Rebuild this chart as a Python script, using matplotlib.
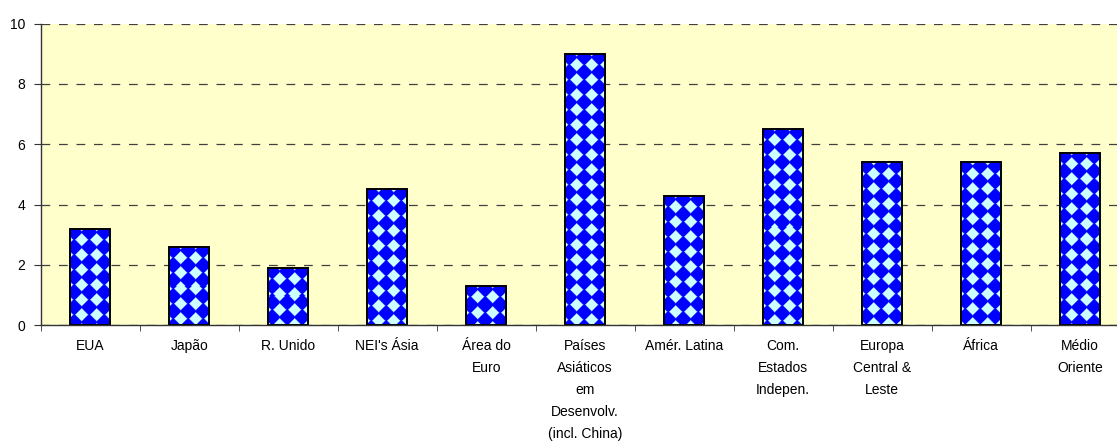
import numpy as np
import matplotlib
matplotlib.use("Agg")
import matplotlib.pyplot as plt

plt.rcParams["font.family"] = ["Liberation Sans", "DejaVu Sans"]
plt.rcParams["font.size"] = 10

categories = ["EUA", "Japão", "R. Unido", "NEI's Ásia", "Área do\nEuro",
              "Países\nAsiáticos\nem\nDesenvolv.\n(incl. China)",
              "Amér. Latina", "Com.\nEstados\nIndepen.",
              "Europa\nCentral &\nLeste", "África", "Médio\nOriente"]
values = [3.2, 2.6, 1.9, 4.5, 1.3, 9.0, 4.3, 6.5, 5.4, 5.4, 5.7]
yticks = [0, 2, 4, 6, 8, 10]

BLUE = np.array([0, 0, 255]) / 255
CYAN = np.array([204, 255, 255]) / 255

fig = plt.figure(figsize=(11.17, 4.41), dpi=100)
ax = fig.add_axes([40.7/1117, 1 - 325.3/441, 1089/1117, (325.3 - 23.5)/441])
ax.set_facecolor("#FFFFCC")

x = np.arange(len(categories))
bars = ax.bar(x, values, width=0.41, color=BLUE, edgecolor="none", zorder=2)
ax.bar(x, values, width=0.41, fill=False, edgecolor="black", lw=1.4, zorder=4)

ax.set_xlim(-0.5, len(categories) - 0.5)
ax.set_ylim(0, 10)
ax.set_yticks(yticks)
ax.set_xticks(x)
ax.set_xticklabels(categories, linespacing=1.73, va="top")
ax.set_xticks(np.arange(len(categories) + 1) - 0.5, minor=True)
ax.tick_params(axis="x", which="major", length=0, pad=10)
ax.tick_params(axis="x", which="minor", length=4, color="#333333", direction="out")
ax.tick_params(axis="y", length=5, pad=6, color="#333333")
ax.yaxis.grid(True, ls=(0, (7, 7)), color="#404040", lw=0.9, zorder=1)
ax.set_axisbelow(True)
for s in ["top", "right"]:
    ax.spines[s].set_visible(False)
for s in ["left", "bottom"]:
    ax.spines[s].set_color("#333333")
    ax.spines[s].set_linewidth(1.0)
    ax.spines[s].set_zorder(5)

# diamond texture inside each bar
fig.canvas.draw()
period, rad = 15.0, 6.5
for b, v in zip(bars, values):
    bb = b.get_window_extent()
    w, h = int(round(bb.width)), int(round(bb.height))
    yy, xx = np.mgrid[0:h, 0:w] + 0.5
    dx = (xx - 11.7) % period
    dx = np.minimum(dx, period - dx)
    dy = (yy - 11.7) % period
    dy = np.minimum(dy, period - dy)
    a = np.clip((rad - (dx + dy)) / 1.5 + 0.5, 0, 1)[..., None]
    img = BLUE * (1 - a) + CYAN * a
    x0 = b.get_x()
    im = ax.imshow(img, extent=(x0, x0 + b.get_width(), 0, v), origin="upper",
                   aspect="auto", interpolation="nearest", zorder=3)
    im.set_clip_path(b)

ax.set_xlim(-0.5, len(categories) - 0.5)
ax.set_ylim(0, 10)

fig.savefig("out.png", dpi=100)
